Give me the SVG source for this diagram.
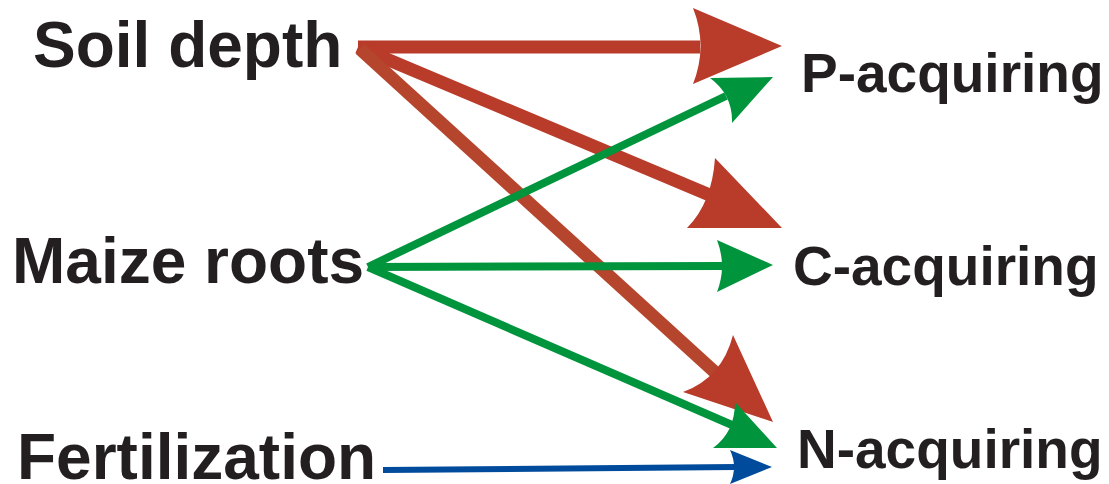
<svg xmlns="http://www.w3.org/2000/svg" width="1109" height="484" viewBox="0 0 1109 484">
<style>
.lbl{font-family:"Liberation Sans",Arial,sans-serif;font-weight:bold;fill:#231f20}
.src{font-size:64px}
.dst{font-size:55px}
.red{stroke:#b93b2a;stroke-width:13;fill:none}
.grn{stroke:#00953d;stroke-width:8;fill:none}
.blu{stroke:#004b9b;stroke-width:6;fill:none}
.rh{fill:#b93b2a}
.gh{fill:#00953d}
.bh{fill:#004b9b}
</style>
<rect width="1109" height="484" fill="#ffffff"/>
<g id="connectors">
  <line class="red" x1="358" y1="47" x2="700" y2="47"/>
  <path class="rh" d="M693,8 L782,46 L693,84 Q708,46 693,8 Z"/>
  <line class="red" x1="358" y1="47" x2="712" y2="196"/>
  <path class="rh" d="M715,158 L782,228 L687,228 Q712,203 715,158 Z"/>
  <line class="red" x1="360" y1="49" x2="718" y2="375" style="stroke:#b5452c"/>
  <path class="rh" d="M733,335 L773,422 L683,392 Q722,378 733,335 Z"/>
  <line class="grn" x1="368" y1="267" x2="726" y2="96"/>
  <path class="gh" d="M710,78 L773,77 L732,123 Q733,95 710,78 Z"/>
  <line class="grn" x1="368" y1="267" x2="724" y2="266"/>
  <path class="gh" d="M717,240 L773,265 L717,292 Q727,266 717,240 Z"/>
  <line class="grn" x1="368" y1="267" x2="732" y2="425"/>
  <path class="gh" d="M735,402 L777,448 L713,448 Q735,432 735,402 Z"/>
  <line class="blu" x1="383" y1="470" x2="736" y2="467"/>
  <path class="bh" d="M730,450 L772,467 L730,484 Q738,467 730,450 Z"/>
</g>
<g id="soil-depth"><text class="lbl src" x="33" y="67">Soil depth</text></g>
<g id="maize-roots"><text class="lbl src" x="12" y="283">Maize roots</text></g>
<g id="fertilization"><text class="lbl src" x="17" y="479">Fertilization</text></g>
<g id="p-acquiring"><text class="lbl dst" x="801" y="92">P-acquiring</text></g>
<g id="c-acquiring"><text class="lbl dst" x="793" y="285">C-acquiring</text></g>
<g id="n-acquiring"><text class="lbl dst" x="797" y="468">N-acquiring</text></g>
</svg>
